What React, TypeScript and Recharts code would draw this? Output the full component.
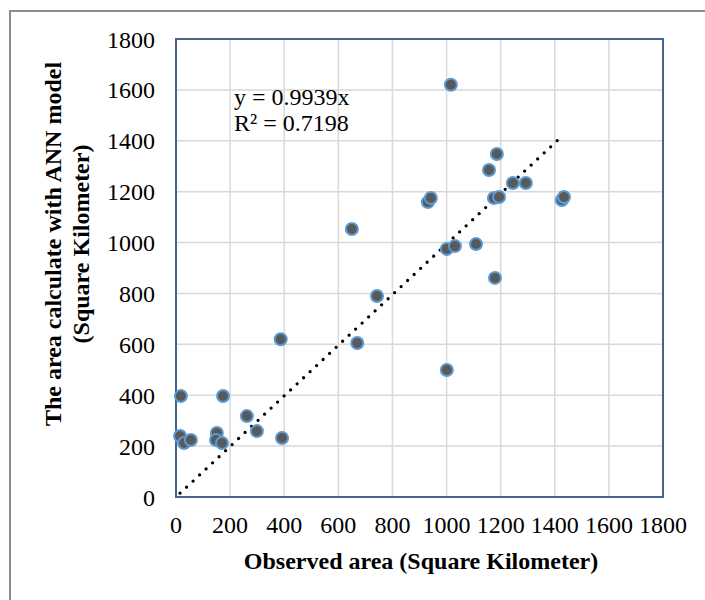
import React from "react";
import {
  ScatterChart,
  Scatter,
  XAxis,
  YAxis,
  CartesianGrid,
  ReferenceLine,
  ReferenceArea,
  Customized,
} from "recharts";

const observed = [
  18, 174, 262, 15, 30, 55, 151, 148, 170, 299, 392, 387, 650, 670, 743, 931,
  942, 1001, 1001, 1016, 1031, 1109, 1157, 1175, 1179, 1186, 1194, 1245, 1293,
  1426, 1434,
];
const predicted = [
  397, 397, 318, 240, 212, 224, 252, 224, 212, 259, 232, 620, 1053, 605, 790,
  1159, 1175, 975, 499, 1620, 986, 994, 1285, 1175, 861, 1348, 1179, 1234,
  1234, 1167, 1179,
];
const ticks = [0, 200, 400, 600, 800, 1000, 1200, 1400, 1600, 1800];
const trendSlope = 0.9939;
const trendX = [15, 1420];
const equationText = "y = 0.9939x";
const r2Text = "R² = 0.7198";
const xTitle = "Observed area (Square Kilometer)";
const yTitle1 = "The area calculate with ANN model";
const yTitle2 = "(Square Kilometer)";

const points = observed.map((x, i) => ({ x, y: predicted[i] }));
const trendSegment = trendX.map((x) => ({ x, y: x * trendSlope }));

const FONT = "'Liberation Serif', 'Times New Roman', serif";

const Dot = (props: any) => (
  <circle
    cx={props.cx}
    cy={props.cy}
    r={6}
    fill="#595959"
    stroke="#5B9BD5"
    strokeWidth={2}
  />
);

const Texts = () => (
  <g fontFamily={FONT}>
    <text x={226} y={97} fontSize={24} fill="#000">
      {equationText}
    </text>
    <text x={226} y={123} fontSize={24} fill="#000">
      {r2Text}
    </text>
    <text
      x={413}
      y={561}
      fontSize={24}
      fontWeight="bold"
      textAnchor="middle"
      fill="#000"
    >
      {xTitle}
    </text>
    <text
      x={53}
      y={236}
      fontSize={24}
      fontWeight="bold"
      textAnchor="middle"
      fill="#000"
      transform="rotate(-90, 53, 236)"
    >
      {yTitle1}
    </text>
    <text
      x={80.5}
      y={236}
      fontSize={24}
      fontWeight="bold"
      textAnchor="middle"
      fill="#000"
      transform="rotate(-90, 80.5, 236)"
    >
      {yTitle2}
    </text>
  </g>
);

export default function App() {
  return (
    <div
      style={{
        position: "fixed",
        left: 0,
        top: 0,
        width: 705,
        height: 600,
        overflow: "hidden",
        background: "#fff",
      }}
    >
      <div
        style={{
          position: "absolute",
          left: 9,
          top: 10,
          width: 800,
          height: 800,
          borderTop: "2px solid #8c8c8c",
          borderLeft: "2px solid #8c8c8c",
          boxSizing: "border-box",
        }}
      />
      <div style={{ position: "absolute", left: 8, top: 8 }}>
        <ScatterChart
          width={697}
          height={592}
          margin={{ top: 31, right: 42, left: 98, bottom: 63 }}
        >
          <CartesianGrid stroke="#d9d9d9" strokeWidth={1.5} />
          <XAxis
            type="number"
            dataKey="x"
            domain={[0, 1800]}
            ticks={ticks}
            interval={0}
            height={40}
            axisLine={false}
            tickLine={false}
            tickSize={0}
            tickMargin={19}
            tick={{ fontFamily: FONT, fontSize: 24, fill: "#000" }}
          />
          <YAxis
            type="number"
            dataKey="y"
            domain={[0, 1800]}
            ticks={ticks}
            interval={0}
            width={70}
            axisLine={false}
            tickLine={false}
            tickSize={0}
            tickMargin={21}
            tick={{ fontFamily: FONT, fontSize: 24, fill: "#000" }}
          />
          <ReferenceArea
            x1={0}
            x2={1800}
            y1={0}
            y2={1800}
            fill="none"
            fillOpacity={0}
            stroke="#44638f"
            strokeWidth={2}
          />
          <Scatter data={points} shape={Dot} isAnimationActive={false} />
          <ReferenceLine
            segment={trendSegment}
            stroke="#000"
            strokeWidth={3.3}
            strokeDasharray="0 8.9"
            strokeLinecap="round"
          />
          <Customized component={Texts} />
        </ScatterChart>
      </div>
    </div>
  );
}
